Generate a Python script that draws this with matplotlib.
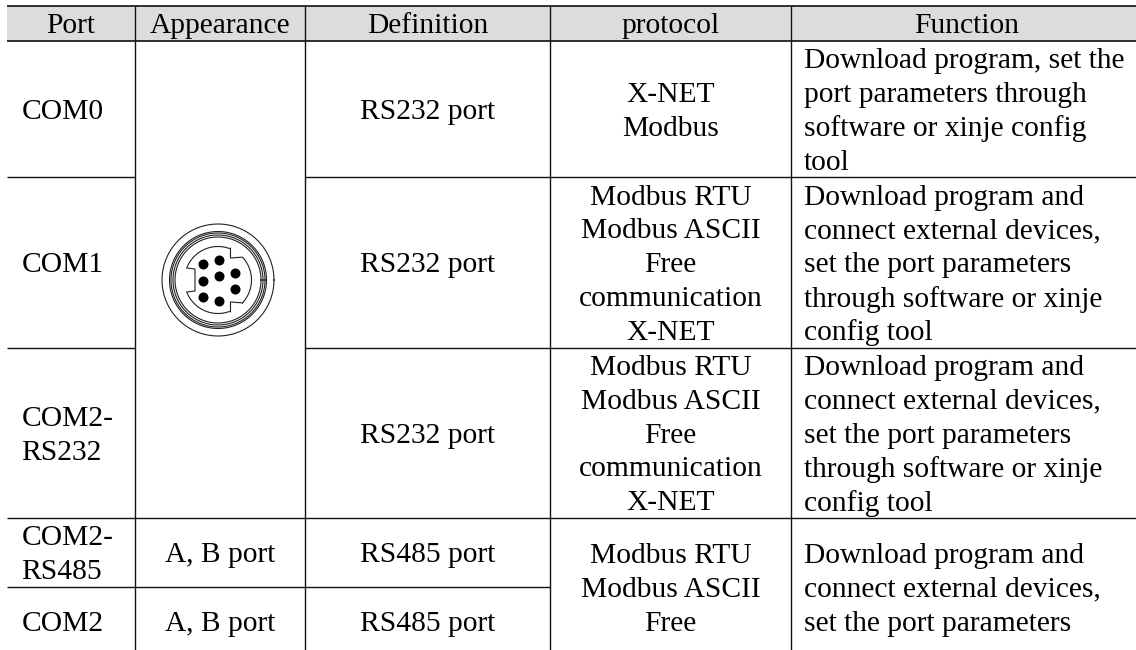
import matplotlib
matplotlib.use('Agg')
import matplotlib.pyplot as plt
import numpy as np

plt.rcParams['font.family'] = ['Liberation Serif', 'DejaVu Serif']

headers = ["Port", "Appearance", "Definition", "protocol", "Function"]
ports = [["COM0"], ["COM1"], ["COM2-", "RS232"], ["COM2-", "RS485"], ["COM2"]]
appearance = ["A, B port", "A, B port"]
definitions = ["RS232 port", "RS232 port", "RS232 port", "RS485 port", "RS485 port"]
protocols = [
    ["X-NET", "Modbus"],
    ["Modbus RTU", "Modbus ASCII", "Free", "communication", "X-NET"],
    ["Modbus RTU", "Modbus ASCII", "Free", "communication", "X-NET"],
    ["Modbus RTU", "Modbus ASCII", "Free"],
]
functions = [
    ["Download program, set the", "port parameters through", "software or xinje config", "tool"],
    ["Download program and", "connect external devices,", "set the port parameters", "through software or xinje", "config tool"],
    ["Download program and", "connect external devices,", "set the port parameters", "through software or xinje", "config tool"],
    ["Download program and", "connect external devices,", "set the port parameters"],
]

# table grid, in pixels of the picture
col_x = [6.5, 134.5, 305, 550, 791, 1136]
row_y = [5.5, 41, 177, 347.5, 517.7, 586.5, 656]
font_px = 29.5
line_px = 33.8
pins = [(-15, -16), (1, -20), (17, -7), (1, -4), (-15, 1), (17, 9), (-15, 17), (1, 21)]

fig = plt.figure(figsize=(11.36, 6.5), dpi=100)
ax = fig.add_axes([0, 0, 1, 1])
ax.set_xlim(0, 1136)
ax.set_ylim(650, 0)
ax.axis('off')
fs = font_px * 72 / 100


def cell(x, top, bottom, lines, ha='center'):
    ys = (top + bottom) / 2 + (np.arange(len(lines)) - (len(lines) - 1) / 2) * line_px
    for y, s in zip(ys, lines):
        ax.text(x, y, s, ha=ha, va='center_baseline', fontsize=fs, color='black')


# header
ax.fill_between(col_x[0:1] + col_x[-1:], row_y[0], row_y[1], color='#dcdcdc', lw=0)
for i, h in enumerate(headers):
    ax.text((col_x[i] + col_x[i + 1]) / 2 + (3 if i == 4 else 0), 23, h, ha='center',
            va='center_baseline', fontsize=fs)

# grid
lw = 1.0
ax.hlines(row_y[0:2], col_x[0], col_x[-1], color='#111111', lw=lw * 1.2)
ax.vlines(col_x[1:5], row_y[0], 650, color='#111111', lw=lw)
ax.hlines(row_y[2:4], col_x[0], col_x[1], color='#111111', lw=lw)
ax.hlines(row_y[2:4], col_x[2], col_x[-1], color='#111111', lw=lw)
ax.hlines(row_y[4], col_x[0], col_x[-1], color='#111111', lw=lw)
ax.hlines(row_y[5], col_x[0], col_x[3], color='#111111', lw=lw)

# cells
for r in range(5):
    top, bottom = row_y[r + 1], row_y[r + 2]
    cell(col_x[0] + 15, top, bottom, ports[r], ha='left')
    cell((col_x[2] + col_x[3]) / 2, top, bottom, [definitions[r]])
for r in [3, 4]:
    cell((col_x[1] + col_x[2]) / 2, row_y[r + 1], row_y[r + 2], [appearance[r - 3]])
for r in range(4):
    top = row_y[r + 1]
    bottom = row_y[r + 2] if r < 3 else row_y[-1]
    cell((col_x[3] + col_x[4]) / 2, top, bottom, protocols[r])
    cell(col_x[4] + 13, top, bottom, functions[r], ha='left')

# connector drawing
cx, cy = 218, 280
t = np.linspace(0, 2 * np.pi, 361)
for r in [56, 48.5, 47, 45, 43]:
    ax.plot(cx + r * np.cos(t), cy + r * np.sin(t), color='#222222', lw=0.8)


def arc(r, a0, a1):
    a = np.radians(np.linspace(a0, a1, 60))
    return np.c_[cx + r * np.cos(a), cy + r * np.sin(a)]


r_in = 33.5
outline = np.vstack([
    arc(r_in, 43, -43),
    [[cx + 12.5, cy - 22], [cx + 12.5, cy - 32]],
    arc(r_in, -69, -159),
    [[cx - 23, cy - 11], [cx - 23, cy + 11]],
    arc(r_in, 159, 69),
    [[cx + 12.5, cy + 32], [cx + 12.5, cy + 22]],
])
outline = np.vstack([outline, outline[:1]])
ax.plot(outline[:, 0], outline[:, 1], color='#222222', lw=0.8)
for dx, dy in pins:
    ax.plot(cx + dx, cy + dy, 'o', color='black', ms=7.2, mew=0)

fig.savefig('out.png', dpi=100)
